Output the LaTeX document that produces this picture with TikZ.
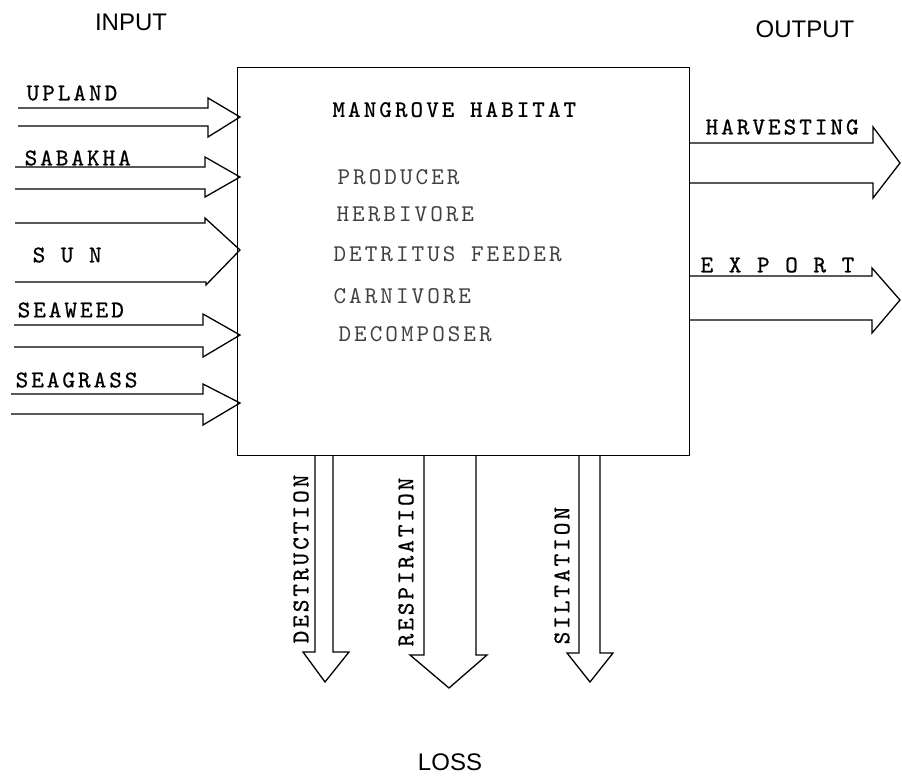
\documentclass[tikz,border=0pt]{standalone}
\usepackage{fontspec}
\setsansfont{Liberation Sans}
\newfontfamily\tw{lmmono10-regular.otf}[LetterSpace=12.5,FakeBold=0.8]
\newfontfamily\twl{lmmono10-regular.otf}[LetterSpace=12.5]
\newfontfamily\twb{lmmonolt10-bold.otf}[LetterSpace=12.5]
\begin{document}
\begin{tikzpicture}[x=1bp,y=-1bp,line width=1.3bp,line join=miter,
  lbl/.style={inner sep=0pt,anchor=west,font=\tw\fontsize{24bp}{28bp}\selectfont},
  inner/.style={lbl,font=\twl\fontsize{24bp}{28bp}\selectfont,text=black!75},
  rlbl/.style={lbl,rotate=90},
  head/.style={inner sep=0pt,font=\sffamily\fontsize{24bp}{28bp}\selectfont},
  blockarrow/.style={draw=black,line width=1.3bp}]
\useasboundingbox (0,0) rectangle (902,776);
% habitat box
\node[draw,line width=1.4bp,minimum width=452bp,minimum height=388bp,inner sep=0pt,anchor=north west] (hab) at (237,67) {};
% headings
\node[head] (input) at (131,22) {INPUT};
\node[head] (output) at (805,29) {OUTPUT};
\node[head] (loss) at (450,762) {LOSS};
% box texts
\node[lbl,font=\twb\fontsize{24bp}{28bp}\selectfont] (title) at (332,110) {MANGROVE HABITAT};
\node[inner] (prod) at (337,177) {PRODUCER};
\node[inner] (herb) at (336,214) {HERBIVORE};
\node[inner] (detr) at (333,254) {DETRITUS FEEDER};
\node[inner] (carn) at (333,296) {CARNIVORE};
\node[inner] (deco) at (338,334) {DECOMPOSER};
% input arrows
\draw[blockarrow] (18,108) -- (208,108) -- (208,98) -- (240,117) -- (208,137) -- (208,126) -- (18,126);
\draw[blockarrow] (15,167) -- (205,167) -- (205,157) -- (240,177) -- (205,197) -- (205,189) -- (15,189);
\draw[blockarrow] (15,223) -- (205,223) -- (205,218) -- (240,250) -- (206,285) -- (206,282) -- (15,282);
\draw[blockarrow] (14,325) -- (203,325) -- (203,314) -- (240,335) -- (203,357) -- (203,347) -- (14,347);
\draw[blockarrow] (11,394) -- (203,394) -- (203,384) -- (240,403) -- (203,425) -- (203,414) -- (11,414);
\node[lbl] (upland) at (26,93) {UPLAND};
\node[lbl] (sabakha) at (24,158) {SABAKHA};
\node[lbl] (sun) at (32,255) {S U N};
\node[lbl] (seaweed) at (17,310) {SEAWEED};
\node[lbl] (seagrass) at (15,380) {SEAGRASS};
% output arrows
\draw[blockarrow] (689,143) -- (873,143) -- (873,127) -- (900,163) -- (873,198) -- (873,183) -- (689,183);
\draw[blockarrow] (689,276) -- (872,276) -- (872,268) -- (900,300) -- (872,333) -- (872,320) -- (689,320);
\node[lbl] (harv) at (705,127) {HARVESTING};
\node[lbl] (export) at (700,265) {E X P O R T};
% loss arrows
\draw[blockarrow] (315,455) -- (315,652) -- (303,652) -- (325,682) -- (349,652) -- (333,652) -- (333,455);
\draw[blockarrow] (424,455) -- (424,655) -- (410,655) -- (449,688) -- (487,655) -- (476,655) -- (476,455);
\draw[blockarrow] (579,455) -- (579,653) -- (567,653) -- (590,682) -- (613,653) -- (600,653) -- (600,455);
\node[rlbl] (destr) at (301,644) {DESTRUCTION};
\node[rlbl] (resp) at (406,647) {RESPIRATION};
\node[rlbl] (silt) at (562,645) {SILTATION};
\end{tikzpicture}
\end{document}
